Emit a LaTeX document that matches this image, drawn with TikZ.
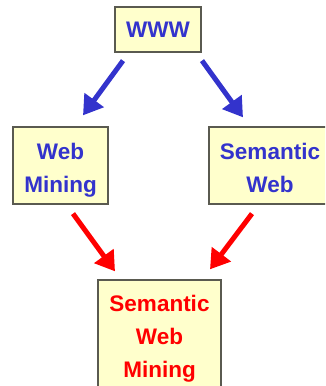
\documentclass[tikz,border=0pt]{standalone}
\usepackage{fontspec}
\setmainfont{Liberation Sans}
\usetikzlibrary{arrows.meta,calc}

\definecolor{boxfill}{HTML}{FFFFCC}
\definecolor{boxline}{HTML}{5A5A50}
\definecolor{webblue}{HTML}{3333CC}
\definecolor{webred}{HTML}{FF0000}

\begin{document}
\begin{tikzpicture}[x=1pt,y=1pt]
		\tikzstyle{block} = [rectangle,draw=boxline,line width=1.3pt,fill=boxfill,inner sep=0pt,align=center,font=\fontsize{22.5}{33}\selectfont\bfseries]
		\tikzstyle{bluearrow} = [-{Triangle[length=19pt,width=23pt]},line width=5pt,draw=webblue,fill=webblue]
		\tikzstyle{redarrow} = [-{Triangle[length=19pt,width=23pt]},line width=5pt,draw=webred,fill=webred]
		
		\useasboundingbox (0,0) rectangle (325,-386);
		\clip (0,0) rectangle (325,-386);
		
		\node[block,text=webblue,minimum width=86pt,minimum height=45pt] (www) at (158,-29.5) {WWW};
		
		\node[block,text=webblue,minimum width=95pt,minimum height=77pt,text height=53pt,text depth=0pt] (wm) at (60.5,-165.5) {Web\\Mining};
		\node[block,text=webblue,minimum width=122pt,minimum height=77pt,text height=53pt,text depth=0pt] (sw) at (270,-165.5) {Semantic\\Web};
		
		\node[block,text=webred,minimum width=123pt,minimum height=116pt,text height=78pt,text depth=0pt] (swm) at (159.5,-338) {Semantic\\Web\\Mining};
		
		\draw[bluearrow] ([xshift=-35pt,yshift=-8pt]www.south) -- ([xshift=22.5pt,yshift=11pt]wm.north);
		\draw[bluearrow] ([xshift=44pt,yshift=-8pt]www.south) -- ([xshift=-27pt,yshift=9pt]sw.north);
		
		\draw[redarrow] ([xshift=12.5pt,yshift=-9pt]wm.south) -- ([xshift=-44.5pt,yshift=8pt]swm.north);
		\draw[redarrow] ([xshift=-18pt,yshift=-9pt]sw.south) -- ([xshift=50.5pt,yshift=10pt]swm.north);
	\end{tikzpicture}
\end{document}
